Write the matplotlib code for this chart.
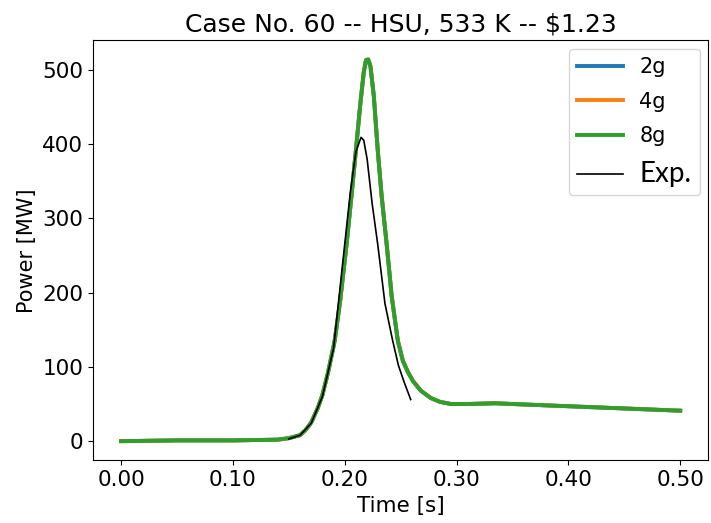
import matplotlib
matplotlib.use("Agg")
import matplotlib.pyplot as plt

# simulated power traces (the three meshes are practically identical)
t_sim = [0.000, 0.050, 0.100, 0.140, 0.150, 0.160, 0.165, 0.170, 0.176, 0.180,
         0.185, 0.191, 0.196, 0.202, 0.206, 0.210, 0.214, 0.217, 0.219, 0.221,
         0.223, 0.226, 0.2295, 0.233, 0.2375, 0.242, 0.2475, 0.252, 0.2565, 0.261,
         0.268, 0.277, 0.285, 0.295, 0.310, 0.335, 0.350, 0.400, 0.450, 0.500]
p_2g = [0, 1, 1, 2, 4, 8, 15, 25, 45, 62,
        92, 135, 190, 270, 330, 392, 455, 496, 512, 513,
        504, 464, 392, 330, 265, 195, 135, 108, 93, 81,
        68, 58, 53, 50, 50, 51, 50, 47, 44, 41]
p_4g = [0, 1, 1, 2, 4, 8, 15, 25, 45, 62,
        92, 135, 190, 270, 330, 392, 455, 497, 513, 514,
        505, 465, 392, 330, 265, 195, 135, 108, 93, 81,
        68, 58, 53, 50, 50, 51, 50, 47, 44, 41]
p_8g = [0, 1, 1, 2, 4, 8, 15, 25, 45, 62,
        92, 135, 190, 270, 330, 392, 455, 497, 513, 514,
        505, 465, 392, 330, 265, 195, 135, 108, 93, 81,
        68, 58, 53, 50, 50, 51, 50, 47, 44, 41]

# experiment
t_exp = [0.150, 0.160, 0.170, 0.180, 0.190, 0.1997, 0.205, 0.210, 0.2146, 0.217,
         0.220, 0.2245, 0.2295, 0.236, 0.2429, 0.248, 0.253, 0.259]
p_exp = [3, 8, 24, 60, 125, 261, 335, 390, 409, 405,
         380, 320, 265, 185, 135, 102, 80, 56]

x_ticks = [0.0, 0.1, 0.2, 0.3, 0.4, 0.5]

fig = plt.figure(figsize=(7.11, 5.23), dpi=100)
ax = fig.add_axes([0.131, 0.12, 0.865, 0.803])

ax.plot(t_sim, p_2g, color="#1f77b4", lw=2.8, label="2g")
ax.plot(t_sim, p_4g, color="#ff7f0e", lw=2.8, label="4g")
ax.plot(t_sim, p_8g, color="#2ca02c", lw=2.8, label="8g")
ax.plot(t_exp, p_exp, color="black", lw=1.2, label="Exp.")

ax.set_xticks(x_ticks)
ax.set_xticklabels([f"{x:.2f}" for x in x_ticks])
ax.tick_params(labelsize=15.5)
ax.set_xlabel("Time [s]", fontsize=15.5, labelpad=4)
ax.set_ylabel("Power [MW]", fontsize=15)
ax.set_title("Case No. 60 -- HSU, 533 K -- $1.23", fontsize=18)

leg = ax.legend(loc="upper right", fontsize=15, handlelength=2.2,
                labelspacing=0.7, borderaxespad=0.4)
exp_txt = leg.get_texts()[-1]
exp_txt.set_fontsize(20)
exp_txt.set_family(["Lato", "DejaVu Sans"])

fig.savefig("out.png", dpi=100)
